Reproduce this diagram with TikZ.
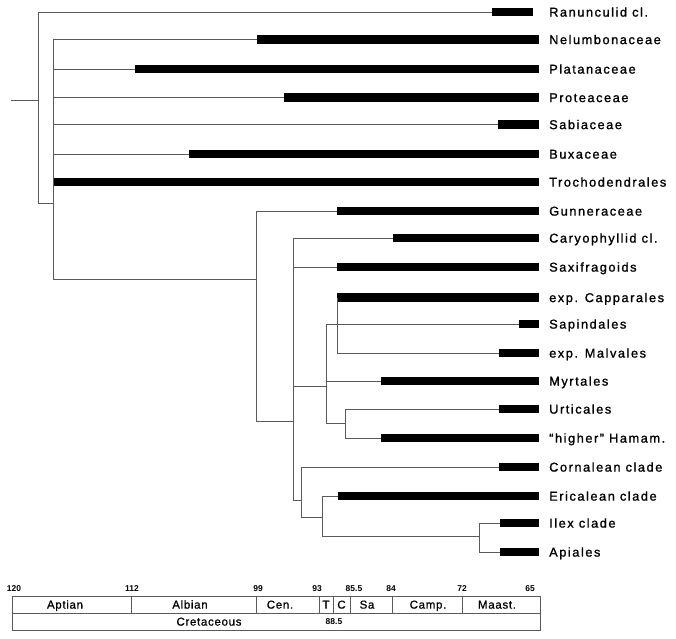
\documentclass[tikz,border=0pt]{standalone}
\usepackage{fontspec}
\setmainfont{Liberation Sans}
\newfontfamily\taxfont[LetterSpace=12,FakeBold=1.2]{Liberation Sans}
\newfontfamily\agefont[LetterSpace=6,FakeBold=0.8]{Liberation Sans}
\usepackage{tikz}
\usetikzlibrary{positioning, calc}
\definecolor{BranchGray}{HTML}{5A5A5A}

\begin{document}
\begin{tikzpicture}[x=1pt, y=-1pt,
  branch/.style={draw=BranchGray, line width=0.6pt},
  bar/.style={line width=8.5pt, line cap=butt},
  taxon/.style={anchor=base west, inner sep=0pt, font=\taxfont\fontsize{12.8}{14}\selectfont},
  stage/.style={anchor=base, inner sep=0pt, font=\agefont\fontsize{11.5}{13}\selectfont},
  age/.style={anchor=base, inner sep=0pt, font=\bfseries\fontsize{8.5}{9}\selectfont}]
\useasboundingbox (0,0) rectangle (676,638);

% --- taxa: range bars and names ---
\foreach \i/\y/\s/\e/\txt in {1/12/492/533/Ranunculid cl.,
    2/39.5/257/539/Nelumbonaceae, 3/69/135/539/Platanaceae,
    4/97.5/284/539/Proteaceae, 5/124.5/498/539/Sabiaceae,
    6/154/189/539/Buxaceae, 7/182/53/539/Trochodendrales,
    8/211/337/539/Gunneraceae, 9/238/393/539/Caryophyllid cl.,
    10/267/337/539/Saxifragoids, 11/297.5/337/539/exp. Capparales,
    12/324/519/539/Sapindales, 13/353/499/539/exp. Malvales,
    14/381/381/539/Myrtales, 15/409/499/539/Urticales,
    16/438/381/539/“higher” Hamam., 17/467/499/539/Cornalean clade,
    18/496/338/539/Ericalean clade, 19/523/500/539/Ilex clade,
    20/552/500/539/Apiales}{
  \coordinate (b\i) at (\s,\y);
  \coordinate (e\i) at (\e,\y);
  \draw[bar] (b\i) -- (e\i);
  \node[taxon] (t\i) at (549,\y+4.6) {\txt};
}

% --- internal nodes ---
\coordinate (stub) at (11,100);
\coordinate (root) at (38,100);
\coordinate (n1) at (53,203);
\coordinate (n2) at (256,279);
\coordinate (n3) at (293,421);
\coordinate (n4) at (326,386);
\coordinate (n5) at (337,324);
\coordinate (n6) at (301,500);
\coordinate (n7) at (345,423);
\coordinate (n8) at (322,517);
\coordinate (n9) at (479,536);

% --- branches ---
\draw[branch] (stub) -- (root);
\foreach \p/\kids in {root/{b1,n1}, n1/{b2,b3,b4,b5,b6,b7,n2},
    n2/{b8,n3}, n3/{b9,b10,n4,n6}, n4/{b12,b14,n7}, n5/{b11,b13},
    n7/{b15,b16}, n6/{b17,n8}, n8/{b18,n9}, n9/{b19,b20}}{
  \foreach \c in \kids
    \draw[branch] (\p) |- (\c);
}

% --- time scale ---
\draw[branch] (12,596) rectangle (540,630);
\draw[branch] (12,613) -- (540,613);
\foreach \x in {131,256,319,333,350,392,462}
  \draw[branch] (\x,596) -- (\x,613);
\foreach \x/\a in {14/120, 132/112, 258/99, 317/93, 354/85.5, 391/84, 462/72, 530/65}
  \node[age] (a\a) at (\x,591.1) {\a};
\foreach \x/\st [count=\k] in {65/Aptian, 190/Albian, 280/Cen., 326/T, 341.5/C,
    367/Sa, 428/Camp., 497/Maast.}
  \node[stage] (s\k) at (\x,608.6) {\st};
\node[stage] (cret) at (209,625.6) {Cretaceous};
\node[age] (tc) at (334,624.6) {88.5};
\end{tikzpicture}
\end{document}
